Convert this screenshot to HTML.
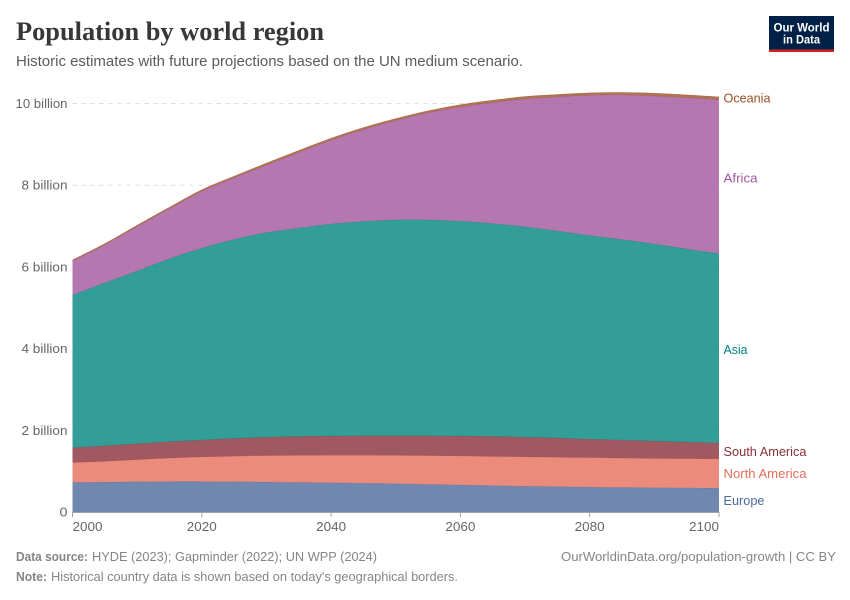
<!DOCTYPE html>
<html lang="en">
<head>
<meta charset="utf-8">
<title>Population by world region</title>
<style>
html,body{margin:0;padding:0;background:#fff;width:850px;height:600px;overflow:hidden}
svg{display:block}
text{font-family:"Liberation Sans",sans-serif}
</style>
</head>
<body>
<svg id="chart" xmlns="http://www.w3.org/2000/svg" width="850" height="600" viewBox="0 0 850 600">
  <rect width="850" height="600" fill="#fff"/>
  <text x="16" y="40" font-size="26" font-weight="700" fill="#373737" style="font-family:'Liberation Serif',serif" textLength="308" lengthAdjust="spacingAndGlyphs">Population by world region</text>
  <text x="16" y="66" font-size="14.5" fill="#5b5b5b" textLength="507" lengthAdjust="spacingAndGlyphs">Historic estimates with future projections based on the UN medium scenario.</text>
  <g>
    <rect x="769" y="16" width="65" height="36" fill="#002147"/>
    <rect x="769" y="49.5" width="65" height="2.5" fill="#ce261e"/>
    <text x="801.5" y="31.5" font-size="12" font-weight="700" fill="#fff" text-anchor="middle" textLength="56" lengthAdjust="spacingAndGlyphs">Our World</text>
    <text x="801.5" y="43.5" font-size="12" font-weight="700" fill="#fff" text-anchor="middle" textLength="37" lengthAdjust="spacingAndGlyphs">in Data</text>
  </g>
  <g id="grid"></g>
  <g id="areas"></g>
  <g id="axes"></g>
  <g id="labels"></g>
  <text x="16" y="561" font-size="13" font-weight="700" fill="#858585" textLength="72" lengthAdjust="spacingAndGlyphs">Data source:</text>
  <text x="92" y="561" font-size="13" fill="#858585" textLength="285" lengthAdjust="spacingAndGlyphs">HYDE (2023); Gapminder (2022); UN WPP (2024)</text>
  <text x="836" y="561" font-size="13" fill="#858585" text-anchor="end" textLength="275" lengthAdjust="spacingAndGlyphs">OurWorldinData.org/population-growth | CC BY</text>
  <text x="16" y="581" font-size="13" font-weight="700" fill="#858585" textLength="31" lengthAdjust="spacingAndGlyphs">Note:</text>
  <text x="51" y="581" font-size="13" fill="#858585" textLength="407" lengthAdjust="spacingAndGlyphs">Historical country data is shown based on today's geographical borders.</text>
</svg>
<script>
const years = [2000,2005,2010,2015,2020,2025,2030,2035,2040,2045,2050,2055,2060,2065,2070,2075,2080,2085,2090,2095,2100];
const europe = [0.725,0.73,0.74,0.745,0.745,0.74,0.735,0.725,0.715,0.705,0.69,0.675,0.66,0.645,0.63,0.62,0.61,0.60,0.595,0.59,0.585];
const northAmerica = [0.485,0.51,0.54,0.575,0.60,0.625,0.645,0.66,0.675,0.685,0.695,0.705,0.71,0.715,0.72,0.72,0.72,0.72,0.715,0.715,0.715];
const southAmerica = [0.36,0.38,0.39,0.40,0.415,0.435,0.45,0.465,0.47,0.475,0.48,0.485,0.49,0.49,0.48,0.47,0.45,0.44,0.425,0.405,0.39];
const asia = [3.74,3.99,4.23,4.48,4.70,4.87,5.01,5.10,5.19,5.245,5.285,5.285,5.26,5.21,5.15,5.07,4.99,4.91,4.825,4.73,4.63];
const africa = [0.83,0.93,1.09,1.22,1.39,1.51,1.65,1.85,2.05,2.25,2.43,2.62,2.79,2.96,3.13,3.28,3.43,3.54,3.62,3.70,3.77];
const oceania = [0.03,0.03,0.03,0.04,0.04,0.04,0.05,0.05,0.05,0.05,0.05,0.05,0.06,0.06,0.06,0.06,0.06,0.06,0.07,0.07,0.07];
const seriesNames = ['Europe','North America','South America','Asia','Africa','Oceania'];
const seriesColors = ['#4C6A9C','#E56E5A','#883039','#00847E','#A2559C','#9A5129'];
const yTicks = [0,2,4,6,8,10];
const yTickLabels = ['0','2 billion','4 billion','6 billion','8 billion','10 billion'];
const xTicks = [2000,2020,2040,2060,2080,2100];

const NS = 'http://www.w3.org/2000/svg';
const allSeries = [europe,northAmerica,southAmerica,asia,africa,oceania];
const xAxis = v => 72.5 + (v - 2000) * (719 - 72.5) / 100;
const yAxis = v => 512 - v * 40.85;
function slug(s){return s.toLowerCase().replace(/\s+/g,'-');}
function make(tag, attrs, parent, txt){
  const el = document.createElementNS(NS, tag);
  for (const k in attrs) el.setAttribute(k, attrs[k]);
  if (txt !== undefined) el.textContent = txt;
  parent.appendChild(el);
  return el;
}
function smooth(pts){
  let d = '';
  for (let i = 0; i < pts.length - 1; i++){
    const p0 = pts[Math.max(i-1,0)], p1 = pts[i], p2 = pts[i+1], p3 = pts[Math.min(i+2,pts.length-1)];
    const c1x = p1[0] + (p2[0]-p0[0])/6, c1y = p1[1] + (p2[1]-p0[1])/6;
    const c2x = p2[0] - (p3[0]-p1[0])/6, c2y = p2[1] - (p3[1]-p1[1])/6;
    d += 'C' + c1x.toFixed(2) + ' ' + c1y.toFixed(2) + ' ' + c2x.toFixed(2) + ' ' + c2y.toFixed(2) + ' ' + p2[0].toFixed(2) + ' ' + p2[1].toFixed(2);
  }
  return d;
}

const grid = document.getElementById('grid');
yTicks.forEach(function(t){
  if (t === 0) return;
  const gl = make('line', {x1:72.5, x2:719, y1:yAxis(t), y2:yAxis(t), stroke:'#dddddd', 'stroke-dasharray':'4 5'}, grid);
  
  
});

const areas = document.getElementById('areas');
let base = years.map(function(){return 0;});
const tops = [];
allSeries.forEach(function(vals, s){
  const top = vals.map(function(v, i){return base[i] + v;});
  const topPts = years.map(function(y, i){return [xAxis(y), yAxis(top[i])];});
  const botPts = years.map(function(y, i){return [xAxis(y), yAxis(base[i])];}).reverse();
  const d = 'M' + topPts[0][0] + ' ' + topPts[0][1] + smooth(topPts) + 'L' + botPts[0][0] + ' ' + botPts[0][1] + smooth(botPts) + 'Z';
  const area = make('path', {d:d, fill:seriesColors[s], 'fill-opacity':0.8, stroke:'none'}, areas);
  
  
  const ln = make('path', {d:'M' + topPts[0][0] + ' ' + topPts[0][1] + smooth(topPts), fill:'none', stroke:seriesColors[s], 'stroke-width':0.5, 'stroke-opacity':0.7}, areas);
  
  
  tops.push({base:base, top:top});
  base = top;
});

const axes = document.getElementById('axes');
const baseline = make('line', {x1:72.5, x2:719, y1:512.5, y2:512.5, stroke:'#a1a1a1', 'stroke-width':1}, axes);


yTicks.forEach(function(t, i){
  const lab = make('text', {x:67.5, y:yAxis(t)+4.5, 'font-size':12.5, fill:'#666666', 'text-anchor':'end', textLength:i===0?8:(t===10?52:46), lengthAdjust:'spacingAndGlyphs'}, axes, yTickLabels[i]);
  
  
});
xTicks.forEach(function(t, i){
  const tk = make('line', {x1:xAxis(t), x2:xAxis(t), y1:512, y2:517, stroke:'#a1a1a1'}, axes);
  
  
  const anchor = i === 0 ? 'start' : (i === xTicks.length-1 ? 'end' : 'middle');
  const lab = make('text', {x:xAxis(t), y:531, 'font-size':12.5, fill:'#666666', 'text-anchor':anchor, textLength:30, lengthAdjust:'spacingAndGlyphs'}, axes, String(t));
  
  
});

const labelColors = ['#4C6A9C','#E56E5A','#883039','#00847E','#A2559C','#9A5129'];
const labelWidths = {Europe:41, 'North America':83, 'South America':83, Asia:24, Africa:34, Oceania:47};
const labelGroup = document.getElementById('labels');
const last = years.length - 1;
seriesNames.forEach(function(n, s){
  let mid = (tops[s].base[last] + tops[s].top[last]) / 2;
  let y = yAxis(mid) + 1;
  if (n === 'Oceania') y = 98;
  if (n === 'Europe') y = 500.5;
  if (n === 'North America') y = 473.5;
  if (n === 'South America') y = 451.5;
  const lab = make('text', {x:723.5, y:y+4.5, 'font-size':12.5, fill:labelColors[s], textLength:labelWidths[n], lengthAdjust:'spacingAndGlyphs'}, labelGroup, n);
  
  
});
</script>
</body>
</html>
